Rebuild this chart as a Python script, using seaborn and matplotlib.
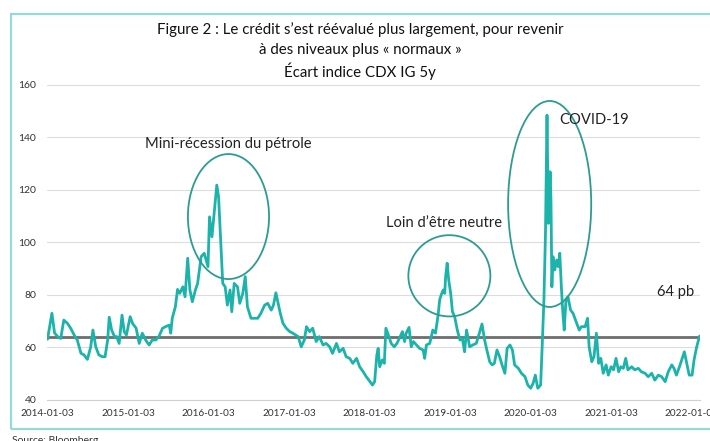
import pandas as pd
import matplotlib.pyplot as plt
import matplotlib.dates as mdates
from matplotlib.patches import Ellipse, Rectangle
import seaborn as sns

# CDX IG 5y spread (pb)
dates = [
    "2014-01-03", "2014-01-23", "2014-02-04", "2014-02-18", "2014-03-04", "2014-03-18", "2014-04-04", "2014-04-18", "2014-05-04", "2014-05-18",
    "2014-06-04", "2014-06-18", "2014-07-03", "2014-07-18", "2014-07-28", "2014-08-10", "2014-08-24", "2014-09-10", "2014-09-21", "2014-10-03",
    "2014-10-10", "2014-10-21", "2014-11-03", "2014-11-13", "2014-11-24", "2014-12-07", "2014-12-17", "2014-12-27", "2015-01-13", "2015-01-24",
    "2015-02-09", "2015-02-23", "2015-03-09", "2015-03-24", "2015-04-09", "2015-04-23", "2015-05-09", "2015-05-23", "2015-06-09", "2015-06-23",
    "2015-07-09", "2015-07-16", "2015-07-23", "2015-08-06", "2015-08-16", "2015-08-26", "2015-09-09", "2015-09-19", "2015-10-01", "2015-10-11",
    "2015-10-22", "2015-11-05", "2015-11-15", "2015-12-01", "2015-12-15", "2016-01-01", "2016-01-08", "2016-01-19", "2016-02-01", "2016-02-10",
    "2016-02-18", "2016-03-01", "2016-03-08", "2016-03-19", "2016-03-29", "2016-04-10", "2016-04-18", "2016-04-29", "2016-05-14", "2016-05-24",
    "2016-06-07", "2016-06-18", "2016-06-28", "2016-07-14", "2016-07-28", "2016-08-14", "2016-08-28", "2016-09-14", "2016-09-28", "2016-10-14",
    "2016-10-24", "2016-11-04", "2016-11-14", "2016-11-24", "2016-12-06", "2016-12-21", "2017-01-06", "2017-01-20", "2017-02-13", "2017-02-27",
    "2017-03-13", "2017-03-23", "2017-04-06", "2017-04-20", "2017-05-06", "2017-05-20", "2017-06-06", "2017-06-20", "2017-07-06", "2017-07-19",
    "2017-08-06", "2017-08-19", "2017-09-05", "2017-09-19", "2017-10-05", "2017-10-19", "2017-11-05", "2017-11-19", "2017-12-05", "2017-12-19",
    "2018-01-05", "2018-01-16", "2018-01-26", "2018-02-05", "2018-02-11", "2018-02-18", "2018-03-02", "2018-03-11", "2018-03-18", "2018-04-01",
    "2018-04-11", "2018-04-25", "2018-05-07", "2018-05-18", "2018-06-01", "2018-06-11", "2018-06-18", "2018-07-01", "2018-07-11", "2018-07-21",
    "2018-08-04", "2018-08-18", "2018-09-03", "2018-09-10", "2018-09-18", "2018-10-03", "2018-10-17", "2018-10-29", "2018-11-10", "2018-11-17",
    "2018-11-24", "2018-12-03", "2018-12-10", "2018-12-14", "2018-12-21", "2018-12-28", "2019-01-06", "2019-01-14", "2019-01-24", "2019-02-05",
    "2019-02-17", "2019-02-28", "2019-03-10", "2019-03-19", "2019-04-02", "2019-04-16", "2019-05-02", "2019-05-16", "2019-05-28", "2019-06-09",
    "2019-06-19", "2019-07-02", "2019-07-13", "2019-07-23", "2019-08-04", "2019-08-16", "2019-08-27", "2019-09-09", "2019-09-19", "2019-10-02",
    "2019-10-13", "2019-10-23", "2019-11-09", "2019-11-23", "2019-12-09", "2019-12-22", "2020-01-04", "2020-01-15", "2020-01-25", "2020-02-05",
    "2020-02-18", "2020-02-25", "2020-03-04", "2020-03-11", "2020-03-18", "2020-03-24", "2020-04-01", "2020-04-05", "2020-04-09", "2020-04-14",
    "2020-04-22", "2020-05-01", "2020-05-08", "2020-05-15", "2020-05-22", "2020-05-29", "2020-06-04", "2020-06-12", "2020-06-21", "2020-07-03",
    "2020-07-14", "2020-07-28", "2020-08-11", "2020-08-21", "2020-09-07", "2020-09-18", "2020-09-25", "2020-10-07", "2020-10-17", "2020-10-28",
    "2020-11-07", "2020-11-17", "2020-11-28", "2020-12-11", "2020-12-21", "2021-01-03", "2021-01-14", "2021-01-25", "2021-02-06", "2021-02-16",
    "2021-02-27", "2021-03-10", "2021-03-20", "2021-04-06", "2021-04-20", "2021-05-06", "2021-05-20", "2021-06-06", "2021-06-20", "2021-07-06",
    "2021-07-20", "2021-08-05", "2021-08-20", "2021-09-05", "2021-09-19", "2021-10-05", "2021-10-15", "2021-10-26", "2021-11-09", "2021-11-19",
    "2021-12-01", "2021-12-12", "2021-12-23", "2022-01-05", "2022-01-14", "2022-01-26", "2022-02-08",
]
cdx_ig = [
    63, 72.9, 65.4, 64, 63.3, 70.3, 69, 67.2, 64.6, 62.7,
    57.6, 57, 55.3, 60.1, 66.5, 60.1, 57, 56.3, 56.3, 62.7,
    71.4, 66.5, 64, 64, 61.4, 72.2, 65.9, 64.6, 71.6, 69,
    67.2, 61.4, 65.3, 62.7, 60.8, 62.7, 62.7, 64, 67.2, 67.8,
    68.4, 65.3, 71, 75.4, 82, 80.5, 83, 79.2, 93.9, 81.8,
    77.3, 81.8, 84.3, 94.5, 95.8, 90.7, 109.7, 102.1, 113.6, 121.8,
    117.4, 97, 84.3, 83, 76, 81.8, 73.5, 84.3, 83, 76.7,
    80.5, 86.9, 75.4, 71, 71, 71, 72.9, 76, 76.7, 74.1,
    76, 80.7, 76.7, 72.9, 69.1, 67.2, 65.9, 65.3, 64, 60.1,
    62.7, 67.8, 65.9, 67.2, 62.1, 64, 60.8, 61.4, 60.1, 57.6,
    61.4, 58.2, 59.5, 56.3, 55.7, 53.8, 55.7, 52.5, 50.6, 48.7,
    46.8, 45.5, 46.8, 57, 59.5, 52.5, 55.1, 53.8, 67.2, 64,
    61.4, 60.1, 61.4, 63.3, 65.9, 62.1, 65.3, 67.5, 60.1, 62.1,
    60.8, 59.5, 58.9, 55.7, 60.8, 61.4, 66.5, 65.3, 72.2, 78,
    79.9, 81.8, 80.5, 86.9, 92, 85.6, 80.5, 73.5, 71.6, 66.5,
    62.7, 63.3, 58.2, 66.5, 60.1, 60.8, 61.4, 65.3, 68.8, 62.7,
    58.9, 54.4, 53.2, 53.8, 58.9, 56.3, 53.2, 50, 59.5, 60.8,
    58.9, 53.2, 51.9, 50, 48.7, 45.5, 44.3, 46.2, 49.3, 44.3,
    45.5, 60.1, 78, 103.4, 148.5, 107.2, 126.9, 116.1, 83, 94.5,
    89.4, 93.2, 90.7, 95.8, 83, 72.9, 66.5, 78, 79.2, 74.1,
    72.9, 69.7, 66.5, 67.8, 67.8, 71, 60.1, 54.4, 56.3, 65.3,
    53.8, 55.7, 50, 53.2, 49.3, 52.5, 51.3, 55.7, 50.6, 52.5,
    51.9, 55.7, 51.3, 52.5, 51.3, 51.9, 50.6, 50, 48.7, 50,
    47.4, 49.3, 48.7, 46.8, 50.6, 53.2, 51.9, 49.3, 52.5, 55.1,
    58.2, 53.8, 49.3, 49.3, 55.1, 60.1, 64.2,
]
average_level = 64

tick_dates = ["2014-01-03", "2015-01-03", "2016-01-03", "2017-01-03", "2018-01-03",
              "2019-01-03", "2020-01-03", "2021-01-03", "2022-01-03"]
y_ticks = [40, 60, 80, 100, 120, 140, 160]

title_lines = [
    "Figure 2 : Le crédit s’est réévalué plus largement, pour revenir",
    "à des niveaux plus « normaux »",
    "Écart indice CDX IG 5y",
]

df = pd.DataFrame({"date": pd.to_datetime(dates), "cdx": cdx_ig})

sns.set_style("white")
plt.rcParams["font.family"] = ["Lato", "DejaVu Sans"]

line_color = "#1BB3AA"
circle_color = "#2C9C93"

fig = plt.figure(figsize=(7.1, 4.41), dpi=100)
ax = fig.add_axes([47.5 / 710, 41.5 / 441, 652.5 / 710, 314.5 / 441])

ax.axhline(average_level, color="#6E6E6E", lw=2, zorder=1)
sns.lineplot(data=df, x="date", y="cdx", color=line_color, linewidth=2.0, ax=ax, zorder=2)

# circled episodes
for center, val, w_days, h in [("2016-04-03", 109.8, 368, 47.7),
                               ("2018-12-31", 87.2, 372, 31),
                               ("2020-03-30", 114.6, 377, 78.6)]:
    ax.add_patch(Ellipse((mdates.date2num(pd.Timestamp(center)), val), w_days, h,
                         fill=False, edgecolor=circle_color, lw=1.3, zorder=3))

ax.set_xlim(pd.Timestamp("2014-01-03"), pd.Timestamp("2022-02-10"))
ax.set_ylim(40, 160)
ax.set_yticks(y_ticks)
ax.set_xticks(pd.to_datetime(tick_dates))
ax.set_xticklabels(tick_dates)
ax.yaxis.grid(True, color="#DCDCDC", lw=0.8)
ax.set_axisbelow(True)
for s in ["top", "right", "left"]:
    ax.spines[s].set_visible(False)
ax.spines["bottom"].set_color("#D0D0D0")
ax.spines["bottom"].set_linewidth(0.8)
ax.tick_params(axis="y", length=0, pad=8, labelsize=7.5, labelcolor="#333333")
ax.tick_params(axis="x", length=3, width=0.8, color="#D0D0D0", pad=4, labelsize=7.2, labelcolor="#333333")
ax.set_xlabel("")
ax.set_ylabel("")

txt = dict(fontsize=10.6, color="#222222", ha="center", va="center", transform=ax.transAxes)
ax.text(0.277, 0.812, "Mini-récession du pétrole", **txt)
ax.text(0.608, 0.561, "Loin d’être neutre", **txt)
ax.text(0.8375, 0.889, "COVID-19", **txt)
ax.text(0.962, 0.342, "64 pb", **txt)

for y, line in zip([0.932, 0.887, 0.839], title_lines):
    fig.text(0.507, y, line, ha="center", va="center", fontsize=10.8, color="#111111")

fig.patches.append(Rectangle((11 / 710, 12 / 441), 1.0, 415 / 441, transform=fig.transFigure,
                             fill=False, edgecolor="#93DADA", lw=1.6))
fig.text(12 / 710, 5 / 441, "Source: Bloomberg", ha="left", va="top", fontsize=7.5, color="#333333")

fig.savefig("out.png", dpi=100)
